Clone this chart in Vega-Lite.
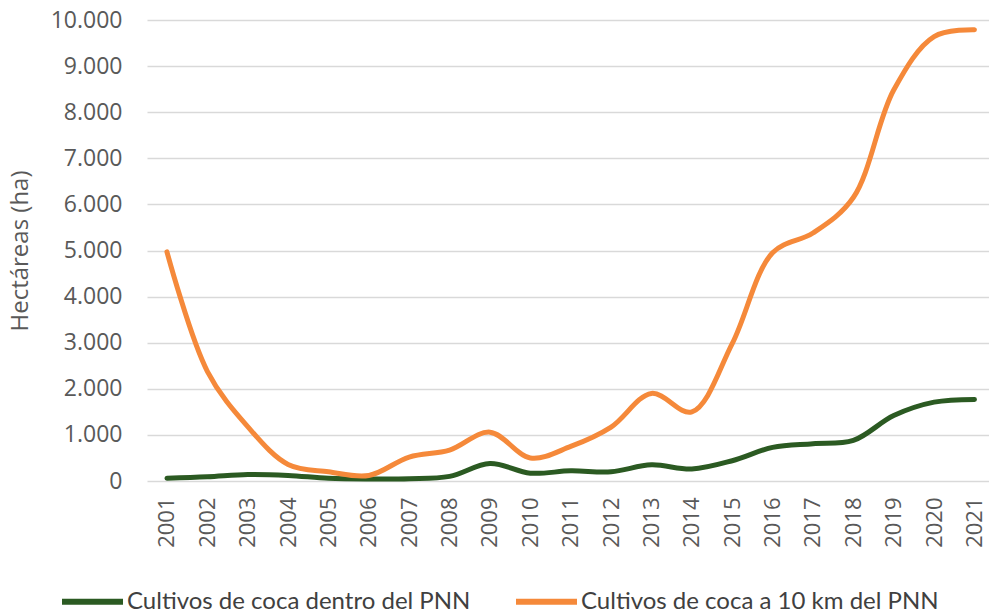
{
  "$schema": "https://vega.github.io/schema/vega-lite/v6.json",
  "width": 842,
  "height": 461,
  "autosize": {"type": "none"},
  "padding": {"left": 147, "top": 20, "right": 0, "bottom": 132},
  "background": "#ffffff",
  "data": {
    "values": [
      {"anio": 2001, "serie": "Cultivos de coca dentro del PNN", "ha": 60},
      {"anio": 2002, "serie": "Cultivos de coca dentro del PNN", "ha": 90},
      {"anio": 2003, "serie": "Cultivos de coca dentro del PNN", "ha": 140},
      {"anio": 2004, "serie": "Cultivos de coca dentro del PNN", "ha": 120},
      {"anio": 2005, "serie": "Cultivos de coca dentro del PNN", "ha": 60},
      {"anio": 2006, "serie": "Cultivos de coca dentro del PNN", "ha": 45},
      {"anio": 2007, "serie": "Cultivos de coca dentro del PNN", "ha": 50},
      {"anio": 2008, "serie": "Cultivos de coca dentro del PNN", "ha": 100},
      {"anio": 2009, "serie": "Cultivos de coca dentro del PNN", "ha": 380},
      {"anio": 2010, "serie": "Cultivos de coca dentro del PNN", "ha": 170},
      {"anio": 2011, "serie": "Cultivos de coca dentro del PNN", "ha": 220},
      {"anio": 2012, "serie": "Cultivos de coca dentro del PNN", "ha": 200},
      {"anio": 2013, "serie": "Cultivos de coca dentro del PNN", "ha": 350},
      {"anio": 2014, "serie": "Cultivos de coca dentro del PNN", "ha": 260},
      {"anio": 2015, "serie": "Cultivos de coca dentro del PNN", "ha": 440},
      {"anio": 2016, "serie": "Cultivos de coca dentro del PNN", "ha": 730},
      {"anio": 2017, "serie": "Cultivos de coca dentro del PNN", "ha": 810},
      {"anio": 2018, "serie": "Cultivos de coca dentro del PNN", "ha": 880},
      {"anio": 2019, "serie": "Cultivos de coca dentro del PNN", "ha": 1420},
      {"anio": 2020, "serie": "Cultivos de coca dentro del PNN", "ha": 1710},
      {"anio": 2021, "serie": "Cultivos de coca dentro del PNN", "ha": 1770},
      {"anio": 2001, "serie": "Cultivos de coca a 10 km del PNN", "ha": 4970},
      {"anio": 2002, "serie": "Cultivos de coca a 10 km del PNN", "ha": 2380},
      {"anio": 2003, "serie": "Cultivos de coca a 10 km del PNN", "ha": 1180},
      {"anio": 2004, "serie": "Cultivos de coca a 10 km del PNN", "ha": 360},
      {"anio": 2005, "serie": "Cultivos de coca a 10 km del PNN", "ha": 200},
      {"anio": 2006, "serie": "Cultivos de coca a 10 km del PNN", "ha": 120},
      {"anio": 2007, "serie": "Cultivos de coca a 10 km del PNN", "ha": 520},
      {"anio": 2008, "serie": "Cultivos de coca a 10 km del PNN", "ha": 670},
      {"anio": 2009, "serie": "Cultivos de coca a 10 km del PNN", "ha": 1060},
      {"anio": 2010, "serie": "Cultivos de coca a 10 km del PNN", "ha": 500},
      {"anio": 2011, "serie": "Cultivos de coca a 10 km del PNN", "ha": 750},
      {"anio": 2012, "serie": "Cultivos de coca a 10 km del PNN", "ha": 1170},
      {"anio": 2013, "serie": "Cultivos de coca a 10 km del PNN", "ha": 1900},
      {"anio": 2014, "serie": "Cultivos de coca a 10 km del PNN", "ha": 1500},
      {"anio": 2015, "serie": "Cultivos de coca a 10 km del PNN", "ha": 2980},
      {"anio": 2016, "serie": "Cultivos de coca a 10 km del PNN", "ha": 4950},
      {"anio": 2017, "serie": "Cultivos de coca a 10 km del PNN", "ha": 5380},
      {"anio": 2018, "serie": "Cultivos de coca a 10 km del PNN", "ha": 6150},
      {"anio": 2019, "serie": "Cultivos de coca a 10 km del PNN", "ha": 8480},
      {"anio": 2020, "serie": "Cultivos de coca a 10 km del PNN", "ha": 9640},
      {"anio": 2021, "serie": "Cultivos de coca a 10 km del PNN", "ha": 9790}
    ]
  },
  "mark": {"type": "line", "interpolate": "catmull-rom", "strokeWidth": 5, "strokeCap": "round", "strokeJoin": "round"},
  "encoding": {
    "x": {
      "field": "anio",
      "type": "quantitative",
      "scale": {"domain": [2000.506, 2021.36], "nice": false, "zero": false},
      "axis": {
        "title": null,
        "values": [2001,2002,2003,2004,2005,2006,2007,2008,2009,2010,2011,2012,2013,2014,2015,2016,2017,2018,2019,2020,2021],
        "format": "d",
        "labelAngle": -90,
        "labelAlign": "right",
        "labelBaseline": "middle",
        "labelPadding": 16,
        "labelFont": "Open Sans",
        "labelFontSize": 22,
        "labelColor": "#595959",
        "labelOverlap": false,
        "labelBound": false,
        "grid": false,
        "domain": false,
        "ticks": false
      }
    },
    "y": {
      "field": "ha",
      "type": "quantitative",
      "scale": {"domain": [0, 10000], "nice": false},
      "axis": {
        "title": "Hectáreas (ha)",
        "titleFont": "Open Sans",
        "titleFontSize": 24,
        "titleFontWeight": "normal",
        "titleColor": "#595959",
        "titlePadding": 18,
        "values": [0,1000,2000,3000,4000,5000,6000,7000,8000,9000,10000],
        "labelExpr": "replace(format(datum.value, ','), ',', '.')",
        "labelFont": "Open Sans",
        "labelFontSize": 23,
        "labelColor": "#595959",
        "labelPadding": 25,
        "grid": true,
        "gridColor": "#d9d9d9",
        "gridWidth": 1.5,
        "domain": false,
        "ticks": false
      }
    },
    "color": {
      "field": "serie",
      "type": "nominal",
      "scale": {
        "domain": ["Cultivos de coca dentro del PNN", "Cultivos de coca a 10 km del PNN"],
        "range": ["#2b5a22", "#f5893a"]
      },
      "legend": {
        "title": null,
        "orient": "none",
        "direction": "horizontal",
        "legendX": -88,
        "legendY": 548,
        "padding": 0,
        "symbolType": "stroke",
        "symbolSize": 3721,
        "symbolStrokeWidth": 6,
        "labelFont": "Lato",
        "labelFontSize": 24,
        "labelColor": "#404040",
        "labelOffset": 1,
        "labelLimit": 500,
        "columnPadding": 33
      }
    }
  },
  "config": {
    "view": {"stroke": null}
  }
}
